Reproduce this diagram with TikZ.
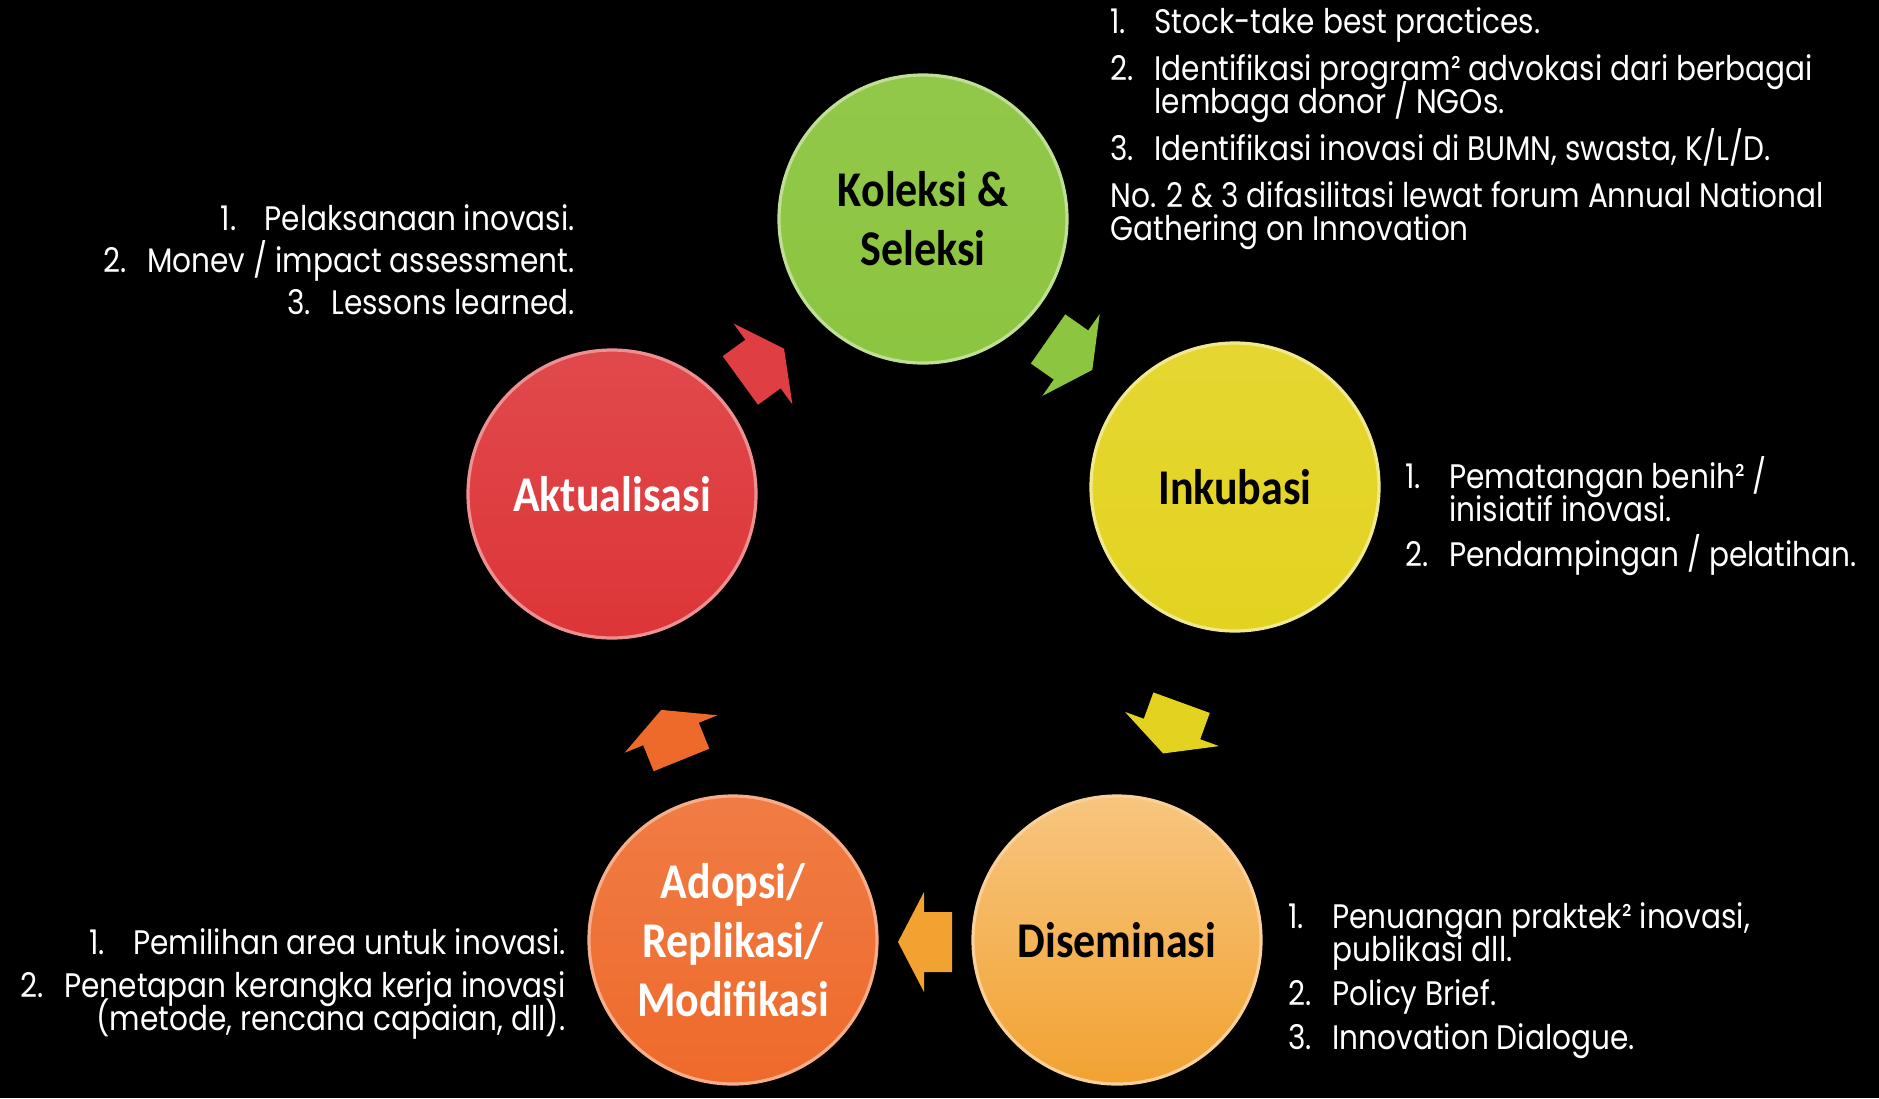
\documentclass[tikz,border=0pt]{standalone}
\usepackage{fontspec}
\setmainfont{Poppins}[FakeStretch=0.87]
\newfontfamily\ballfont{Carlito}[FakeStretch=0.88]

\definecolor{kolgreen}{HTML}{8CC540}
\definecolor{inkyellow}{HTML}{E3D320}
\definecolor{disorange}{HTML}{F2A231}
\definecolor{adoorange}{HTML}{EE6A2B}
\definecolor{aktred}{HTML}{DD3538}

\newcommand{\itemno}[1]{\makebox[22pt][l]{#1.}}
\newcommand{\hangin}{\hspace*{22pt}}
\newcommand{\tightlines}{\setlength{\lineskiplimit}{-20pt}}

\begin{document}
\begin{tikzpicture}[
  x=0.5pt, y=-0.5pt,
  ball/.style={circle,minimum size=144pt,inner sep=0pt,line width=1.6pt,align=center,
    font=\ballfont\bfseries\fontsize{25}{29.5}\selectfont},
  flow/.pic={\fill (-28,-30) -- (0,-30) -- (0,-50) -- (26,0) -- (0,50) -- (0,30) -- (-28,30) -- cycle;},
  note/.style={text=white,inner sep=0pt,
    font=\fontsize{17}{16.5}\selectfont\tightlines}
]
% page and background
\fill[black] (0,0) rectangle (1879,1098);
\useasboundingbox (0,0) rectangle (1879,1098);

% the five stages
\node[ball,top color=kolgreen!95!white,bottom color=kolgreen,draw=kolgreen!55!white] (kol) at (923,219) {Koleksi \&\\Seleksi};
\node[ball,top color=inkyellow!92!white,bottom color=inkyellow,draw=inkyellow!50!white] (ink) at (1235,487) {Inkubasi};
\node[ball,top color=disorange!62!white,bottom color=disorange,draw=disorange!50!white] (dis) at (1117,940) {Diseminasi};
\node[ball,top color=adoorange!88!white,bottom color=adoorange,draw=adoorange!55!white,text=white] (ado) at (733,940) {Adopsi/\\Replikasi/\\Modifikasi};
\node[ball,top color=aktred!90!white,bottom color=aktred,draw=aktred!55!white,text=white] (akt) at (612,494) {Aktualisasi};

% cycle arrows
\pic[fill=aktred!95!white,rotate=36] (aktkol) at (763,364) {flow};
\pic[fill=kolgreen,rotate=-35] (kolink) at (1071,355) {flow};
\pic[fill=inkyellow,rotate=-110] (inkdis) at (1172,729) {flow};
\pic[fill=disorange,rotate=180] (disado) at (924,942) {flow};
\pic[fill=adoorange,rotate=112] (adoakt) at (671,734) {flow};

% notes
\node[note,align=left,anchor=north west] (kolnote) at (1110,7) {%
  \itemno{1}Stock-take best practices.\\[7pt]
  \itemno{2}Identifikasi program² advokasi dari berbagai\\
  \hangin lembaga donor / NGOs.\\[7pt]
  \itemno{3}Identifikasi inovasi di BUMN, swasta, K/L/D.\\[7pt]
  No. 2 \& 3 difasilitasi lewat forum Annual National\\
  Gathering on Innovation};
\node[note,align=left,anchor=north west] (inknote) at (1405,456) {%
  \itemno{1}Pematangan benih² /\\
  \hangin inisiatif inovasi.\\[6pt]
  \itemno{2}Pendampingan / pelatihan.};
\node[note,align=left,anchor=north west] (disnote) at (1288,902) {%
  \itemno{1}Penuangan praktek² inovasi,\\
  \hangin publikasi dll.\\[5.5pt]
  \itemno{2}Policy Brief.\\[5.5pt]
  \itemno{3}Innovation Dialogue.};
\node[note,align=right,anchor=north east] (adonote) at (566,928) {%
  \itemno{1}Pemilihan area untuk inovasi.\\[5pt]
  \itemno{2}Penetapan kerangka kerja inovasi\\
  (metode, rencana capaian, dll).};
\node[note,align=right,anchor=north east] (aktnote) at (575,204) {%
  \itemno{1}Pelaksanaan inovasi.\\[4.5pt]
  \itemno{2}Monev / impact assessment.\\[4.5pt]
  \itemno{3}Lessons learned.};
\end{tikzpicture}
\end{document}
